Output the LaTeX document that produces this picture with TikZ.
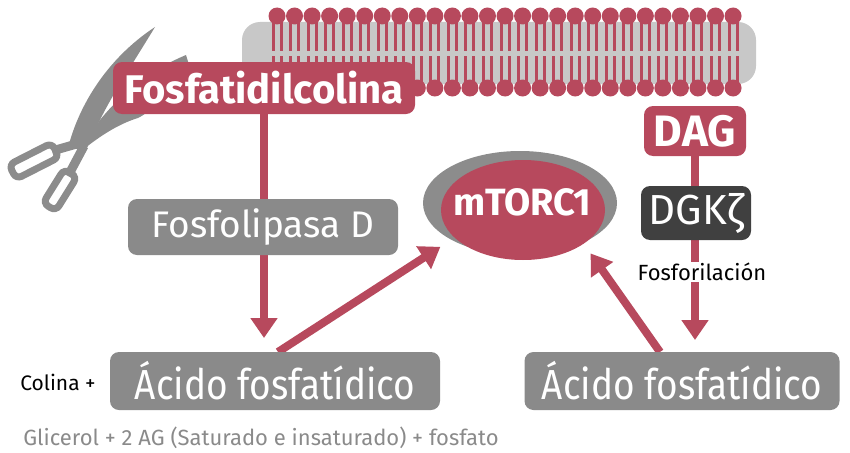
\documentclass[tikz,border=0pt]{standalone}
\usepackage{fontspec}
\setmainfont{Fira Sans}
\newfontfamily\narrowfont{Fira Sans}[FakeStretch=0.88]
\usepackage{tikz}
\usetikzlibrary{arrows.meta,shapes.geometric,backgrounds}
\usepackage{xcolor}

\definecolor{pcred}{RGB}{183,73,93}
\definecolor{boxgray}{RGB}{138,138,138}
\definecolor{membgray}{RGB}{200,200,200}
\definecolor{ringgray}{RGB}{140,140,140}
\definecolor{dgkgray}{RGB}{64,64,64}

\begin{document}
\begin{tikzpicture}[x=1pt,y=-1pt,
	box/.style={rounded corners=9pt, text=white, inner sep=0pt, outer sep=0pt},
	redbox/.style={box, fill=pcred, font=\fontsize{40}{46}\selectfont\bfseries},
	graybox/.style={box, fill=boxgray, font=\fontsize{37}{42}\selectfont},
	bigbox/.style={graybox, font=\fontsize{42}{48}\narrowfont, minimum height=58pt},
	link/.style={draw=pcred, line width=8pt, -{Triangle[length=20pt,width=26pt]}},
	note/.style={inner sep=1pt, font=\fontsize{21}{24}\selectfont}]
	\useasboundingbox (0,0) rectangle (850,452);

	% membrane
	\fill[membgray, rounded corners=18pt] (242,22) rectangle (756,84);
	\foreach \i [evaluate=\i as \hx using 277+17.54*\i] in {0,...,26} {
		\draw[pcred, line width=3pt] (\hx-4,18) -- (\hx-4,51) (\hx+4,18) -- (\hx+4,51)
			(\hx-4,56) -- (\hx-4,86) (\hx+4,56) -- (\hx+4,86);
		\fill[pcred] (\hx,16) circle[radius=8.5pt] (\hx,88) circle[radius=8.5pt];
	}

	% scissors
	\fill[ringgray] (100,120) .. controls (120,95) and (150,70) .. (186,55)
		-- (190,68) .. controls (170,95) and (150,112) .. (138,118)
		.. controls (115,125) and (95,140) .. (80,152) -- cycle;
	\fill[ringgray] (68,148) .. controls (78,108) and (105,60) .. (155,27)
		.. controls (135,60) and (112,95) .. (100,120) -- (86,150) -- cycle;
	\draw[ringgray, line width=9pt] (52,151) -- (80,143);
	\draw[ringgray, line width=9pt] (68,176) -- (84,146);
	\draw[ringgray, line width=7pt, rounded corners=6pt, rotate around={27:(34,161)}]
		(10,153) rectangle (58,169);
	\draw[ringgray, line width=7pt, rounded corners=6pt, rotate around={58:(60,190)}]
		(40,182.5) rectangle (80,197.5);

	% boxes
	\node[redbox, minimum width=302pt, minimum height=52pt] (pc) at (264,88) {Fosfatidilcolina};
	\node[graybox, minimum width=270pt, minimum height=56pt] (pld) at (263,227) {Fosfolipasa D};
	\node[bigbox, minimum width=330pt] (paL) at (275,381) {Ácido fosfatídico};
	\node[bigbox, minimum width=315pt] (paR) at (682,381) {Ácido fosfatídico};
	\node[redbox, font=\fontsize{44}{50}\selectfont\bfseries, minimum width=102pt, minimum height=50pt] (dag) at (695,131) {DAG};
	\node[box, fill=dgkgray, font=\fontsize{42}{48}\selectfont, minimum width=110pt, minimum height=54pt] (dgk) at (696,213) {DGKζ};
	\node[note, fill=white, font=\fontsize{22}{26}\selectfont] (fosfo) at (702,272) {Fosforilación};
	\node[note] (colina) at (58,382) {Colina +};
	\node[note, text=boxgray, font=\fontsize{22}{26}\selectfont] (glic) at (261,438) {Glicerol + 2 AG (Saturado e insaturado) + fosfato};

	% mTORC1
	\node[ellipse, fill=ringgray, minimum width=194pt, minimum height=104pt, inner sep=0pt, outer sep=0pt] (mtorring) at (520,203) {};
	\node[ellipse, fill=pcred, minimum width=164pt, minimum height=100pt, inner sep=0pt, outer sep=0pt] (mtor) at (523,210) {};
	\node[text=white, font=\fontsize{38}{44}\selectfont\bfseries] (mtorlabel) at (522,202) {mTORC1};

	% arrows
	\begin{scope}[on background layer]
		\draw[link, shorten >=14pt] (pc.south) -- (pc.south |- paL.north);
		\draw[link, shorten >=12pt] (dag.south) -- (dag.south |- paR.north);
		\draw[link, shorten >=17pt] ([xshift=3pt]paL.north) -- (mtor.202);
		\draw[link, shorten >=12pt] ([xshift=-22pt]paR.north) -- (mtor.-29);
	\end{scope}
\end{tikzpicture}
\end{document}
